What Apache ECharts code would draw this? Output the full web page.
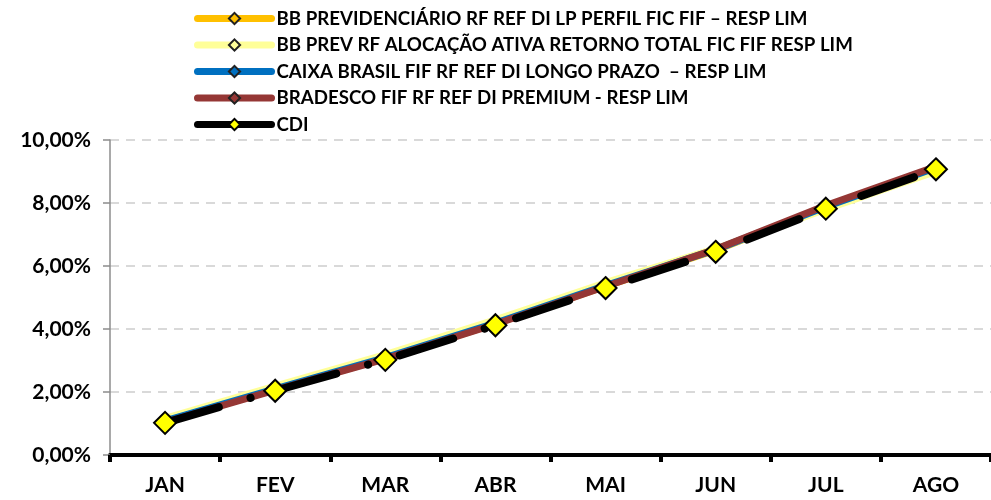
<!DOCTYPE html>
<html>
<head>
<meta charset="utf-8">
<script src="https://cdn.jsdelivr.net/npm/echarts@6/dist/echarts.min.js"></script>
<style>
  html, body { margin: 0; padding: 0; background: #fff; }
  #chart { width: 991px; height: 500px; }
</style>
</head>
<body>
<div id="chart"></div>
<script>
// meses
const months = ['JAN', 'FEV', 'MAR', 'ABR', 'MAI', 'JUN', 'JUL', 'AGO'];
const yTicks = [0, 2, 4, 6, 8, 10];

// rentabilidade acumulada (%)
const bbPrevidenciario = [1.06, 2.08, 3.07, 4.17, 5.36, 6.50, 7.86, 9.10];
const bbPrevAlocacao = [1.16, 2.19, 3.19, 4.29, 5.47, 6.55, 7.80, 9.00];
const caixaBrasil = [1.08, 2.10, 3.09, 4.19, 5.38, 6.52, 7.88, 9.12];
const bradesco = [1.04, 2.06, 3.05, 4.15, 5.35, 6.53, 7.92, 9.16];
const cdi = [1.02, 2.04, 3.02, 4.12, 5.30, 6.45, 7.82, 9.07];

const names = [
    'BB PREVIDENCIÁRIO RF REF DI LP PERFIL FIC FIF – RESP LIM',
    'BB PREV RF ALOCAÇÃO ATIVA RETORNO TOTAL FIC FIF RESP LIM',
    'CAIXA BRASIL FIF RF REF DI LONGO PRAZO  – RESP LIM',
    'BRADESCO FIF RF REF DI PREMIUM - RESP LIM',
    'CDI'
];

const font = 'Lato';

function fundo(name, data, color) {
    return {
        name: name,
        type: 'line',
        data: data,
        symbol: 'diamond',
        symbolSize: 9,
        showSymbol: false,
        lineStyle: { color: color, width: 7 },
        itemStyle: { color: color, borderColor: '#222', borderWidth: 1.5 },
        z: 2
    };
}

const chart = echarts.init(document.getElementById('chart'));
chart.setOption({
    animation: false,
    textStyle: { fontFamily: font },
    legend: {
        orient: 'vertical',
        left: 194,
        top: 9,
        padding: 0,
        itemWidth: 74,
        itemHeight: 14,
        itemGap: 7.5,
        lineStyle: { width: 7, type: 'solid', cap: 'round' },
        textStyle: { fontFamily: font, fontWeight: 'bold', fontSize: 18.7, lineHeight: 18, color: '#000' },
        data: names
    },
    grid: { left: 110, top: 140, width: 892, height: 315 },
    xAxis: {
        type: 'category',
        data: months,
        boundaryGap: true,
        axisLine: { lineStyle: { color: '#000', width: 4 } },
        axisTick: { show: true, length: 7, lineStyle: { color: '#000', width: 4 } },
        axisLabel: { color: '#000', fontWeight: 'bold', fontSize: 21, fontFamily: font, margin: 20 }
    },
    yAxis: {
        type: 'value',
        min: yTicks[0],
        max: yTicks[yTicks.length - 1],
        interval: 2,
        axisLine: { show: true, lineStyle: { color: '#8c8c8c', width: 1.5 } },
        axisTick: { show: true, length: 7, lineStyle: { color: '#8c8c8c', width: 1.5 } },
        axisLabel: {
            color: '#000', fontWeight: 'bold', fontSize: 21, fontFamily: font, margin: 19,
            formatter: v => v.toFixed(2).replace('.', ',') + '%'
        },
        splitLine: { lineStyle: { color: '#d9d9d9', width: 2, type: [9, 7] } }
    },
    series: [
        fundo(names[0], bbPrevidenciario, '#FFC000'),
        fundo(names[1], bbPrevAlocacao, '#FFFF99'),
        fundo(names[2], caixaBrasil, '#0070C0'),
        fundo(names[3], bradesco, '#953735'),
        {
            name: names[4],
            type: 'line',
            data: cdi,
            symbol: 'diamond',
            symbolSize: 22,
            lineStyle: { color: '#000', width: 8, type: [56, 33, 0.1, 33], cap: 'round' },
            itemStyle: { color: '#FFFF00', borderColor: '#000', borderWidth: 2 },
            z: 5
        }
    ]
});
</script>
</body>
</html>
